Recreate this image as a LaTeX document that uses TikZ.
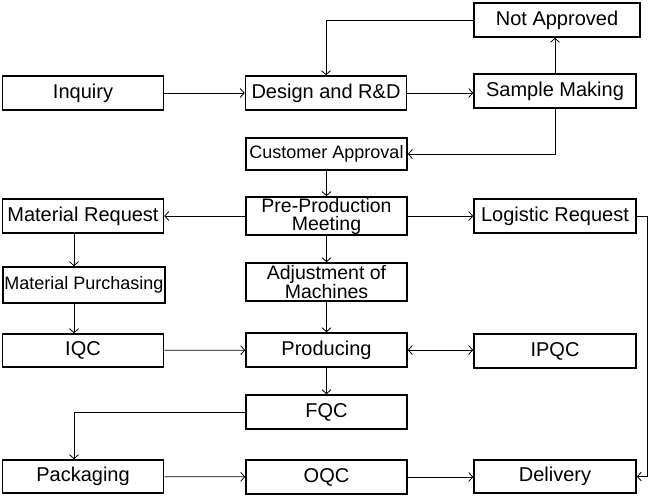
\documentclass[tikz,border=0pt]{standalone}
\usepackage{fontspec}
\setmainfont{Liberation Sans}
\usepackage{tikz}
\usetikzlibrary{arrows.meta}

\begin{document}
\begin{tikzpicture}[x=1pt,y=-1pt]
        \tikzstyle{every node}+=[inner sep=1pt]
        \tikzstyle{box}=[draw=black,line width=1.6pt,minimum width=161,minimum height=34,align=center,font=\fontsize{20}{17}\selectfont]
        \tikzstyle{small}=[font=\fontsize{18}{17}\selectfont]
        \tikzstyle{twoline}=[minimum height=38,font=\fontsize{19.5}{18}\selectfont]
        \tikzstyle{flow}=[line width=0.8pt,-{Straight Barb[length=4pt,width=9pt]}]
        \useasboundingbox (0,0) rectangle (650,497);
        % top row
        \node[box,minimum width=166] (nap) at (557,20) {Not Approved};
        \node[box] (inq) at (83,93) {Inquiry};
        \node[box] (des) at (326,93) {Design and R\&D};
        \node[box,minimum width=162] (smp) at (555,91) {Sample Making};
        \node[box,small,minimum height=32] (cap) at (326.5,154) {Customer Approval};
        % planning
        \node[box,twoline] (ppm) at (326.5,216) {Pre-Production\\Meeting};
        \node[box] (mrq) at (83,216) {Material Request};
        \node[box,minimum width=162] (lrq) at (555,216) {Logistic Request};
        \node[box,small,minimum width=162,minimum height=36] (mpu) at (84,285) {Material Purchasing};
        \node[box,twoline] (adj) at (326.5,282) {Adjustment of\\Machines};
        % production
        \node[box,minimum height=33] (iqc) at (83,350.5) {IQC};
        \node[box] (prd) at (326.5,350) {Producing};
        \node[box,minimum width=162] (ipq) at (555,351) {IPQC};
        \node[box] (fqc) at (326.5,412) {FQC};
        \node[box,minimum height=33] (pkg) at (83,476.5) {Packaging};
        \node[box] (oqc) at (326.5,477) {OQC};
        \node[box,minimum width=162,minimum height=33] (dlv) at (555,476.5) {Delivery};
        % connectors
        \draw[flow] (inq) -- (des);
        \draw[flow] (des) -- (des -| smp.west);
        \draw[flow] (smp.north) -- (smp.north |- nap.south);
        \draw[flow] (nap.west) -| (des.north);
        \draw[flow] (smp.south) |- (cap.east);
        \draw[flow] (cap) -- (ppm);
        \draw[flow] (ppm) -- (mrq);
        \draw[flow] (ppm) -- (lrq);
        \draw[flow] (ppm) -- (adj);
        \draw[flow] ([xshift=-9pt]mrq.south) -- ([xshift=-9pt]mrq.south |- mpu.north);
        \draw[flow] ([xshift=-10pt]mpu.south) -- ([xshift=-10pt]mpu.south |- iqc.north);
        \draw[flow] (adj) -- (prd);
        \draw[flow] (iqc) -- (prd);
        \draw[flow,{Straight Barb[length=4pt,width=9pt]}-{Straight Barb[length=4pt,width=9pt]}] (prd) -- (prd -| ipq.west);
        \draw[flow] (prd) -- (fqc);
        \draw[flow] (fqc.west) -| ([xshift=-9pt]pkg.north);
        \draw[flow] (pkg) -- (oqc);
        \draw[flow] (oqc) -- (oqc -| dlv.west);
        \draw[flow] (lrq.east) -- ++(11,0) |- (dlv.east);
\end{tikzpicture}
\end{document}
